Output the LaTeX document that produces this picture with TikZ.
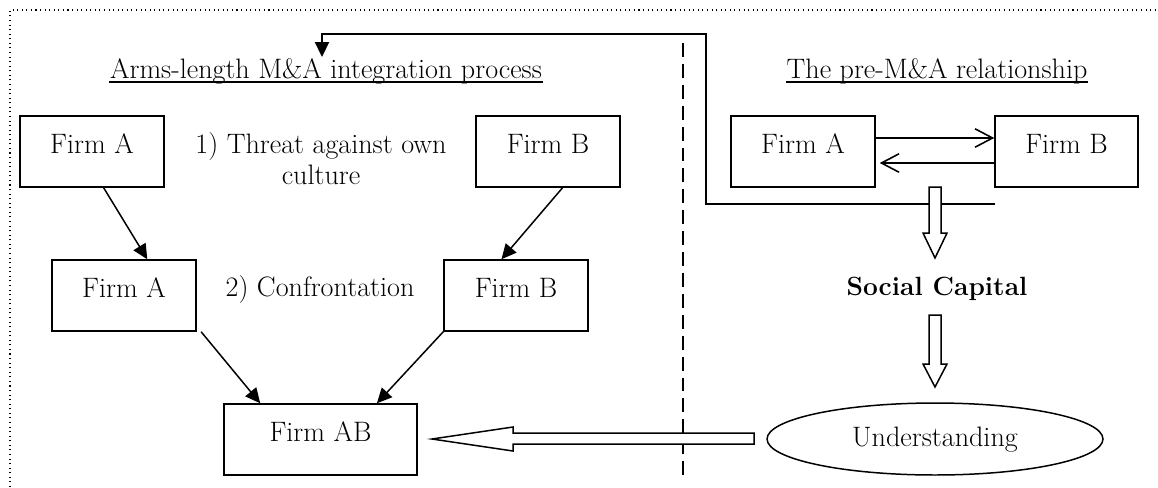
\documentclass[tikz,border=0pt]{standalone}
\usetikzlibrary{arrows.meta,shapes.geometric,calc}
\begin{document}
\begin{tikzpicture}[x=0.02cm,y=-0.02cm,
  font=\fontsize{16}{17.6}\selectfont,
  line width=0.85pt,
  firm/.style={draw,rectangle,inner sep=0pt,minimum width=2.88cm,
    text height=0.74cm,text depth=0.68cm},
  lbl/.style={inner sep=0pt,anchor=base,align=center},
  solid arrow/.style={-{Triangle[length=8.5pt,width=8pt]}},
  barb arrow/.style={-{Straight Barb[length=10pt,width=10.5pt,line width=0.9pt]}},
  hollow/.style={draw,fill=white,line width=0.85pt,line join=miter},
  divider/.style={dash pattern=on 7.9pt off 4pt,line width=1pt},
  frame/.style={dotted,line width=0.6pt},
  uline/.style={line width=0.8pt}]
\useasboundingbox (0,0) rectangle (1158,487);

% dotted outer frame (top and left edges)
\draw[frame] (10,487) -- (10,10) -- (1158,10);

% section divider
\coordinate (divtop) at (683,43);
\coordinate (divbot) at (683,476);
\draw[divider] (divtop) -- (divbot);

% section titles, underlined
\node[lbl] (titleL) at (326,78) {Arms-length M\&A integration process};
\node[lbl] (titleR) at (937,78) {The pre-M\&A relationship};
\draw[uline] ($(titleL.base west)+(0,4)$) -- ($(titleL.base east)+(0,4)$);
\draw[uline] ($(titleR.base west)+(0,4)$) -- ($(titleR.base east)+(0,4)$);

% arms-length integration process
\node[firm] (a1) at (92,151.5) {Firm A};
\node[firm] (b1) at (548,151.5) {Firm B};
\node[firm] (a2) at (124,295.5) {Firm A};
\node[firm] (b2) at (516,295.5) {Firm B};
\node[firm,minimum width=3.86cm] (ab) at (320.5,439.5) {Firm AB};
\node[lbl] (threat) at (321,184) {1) Threat against own\\culture};
\node[lbl] (confront) at (320,296) {2) Confrontation};

\draw[solid arrow] ($(a1.south west)!0.58!(a1.south east)$) -- ($(a2.north west)!0.66!(a2.north east)$);
\draw[solid arrow] ($(b1.south west)!0.60!(b1.south east)$) -- ($(b2.north west)!0.40!(b2.north east)$);
\draw[solid arrow] ($(a2.south west)!1.03!(a2.south east)$) -- ($(ab.north west)!0.19!(ab.north east)$);
\draw[solid arrow] (b2.south west) -- ($(ab.north west)!0.79!(ab.north east)$);

% pre-M&A relationship
\node[firm] (ra) at (803,151.5) {Firm A};
\node[firm,minimum width=2.86cm] (rb) at (1066.5,151.5) {Firm B};
\draw[barb arrow] (ra.east |- 0,138) -- (rb.west |- 0,138);
\draw[barb arrow] (rb.west |- 0,163) -- ($(ra.east |- 0,163)+(4,0)$);

\node[lbl,font=\fontsize{15}{17.6}\selectfont\bfseries] (social) at (937,295) {Social Capital};
\node[draw,ellipse,minimum width=6.72cm,minimum height=1.44cm,inner sep=0pt] (und) at (935,439) {};
\node[lbl] (undtext) at (935,446) {Understanding};

% feedback from the relationship to the integration process
\coordinate (fbstart) at (995,204);
\coordinate (fbcorner) at (706,204);
\coordinate (fbtop) at (706,34);
\coordinate (fbend) at (322,57);
\draw[solid arrow,line width=1pt] (fbstart) -- (fbcorner) -- (fbtop) -- (fbtop -| fbend) -- (fbend);

% hollow block arrows
\draw[hollow] (929,187) -- (941,187) -- (941,233) -- (947,233) -- (935,258)
  -- (923,233) -- (929,233) -- cycle;
\draw[hollow] (929,315) -- (941,315) -- (941,364) -- (947,364) -- (935,387)
  -- (923,364) -- (929,364) -- cycle;
\draw[hollow] (754,433) -- (513,433) -- (513,427) -- (432,439)
  -- (513,451) -- (513,444) -- (754,444) -- cycle;
\end{tikzpicture}
\end{document}
